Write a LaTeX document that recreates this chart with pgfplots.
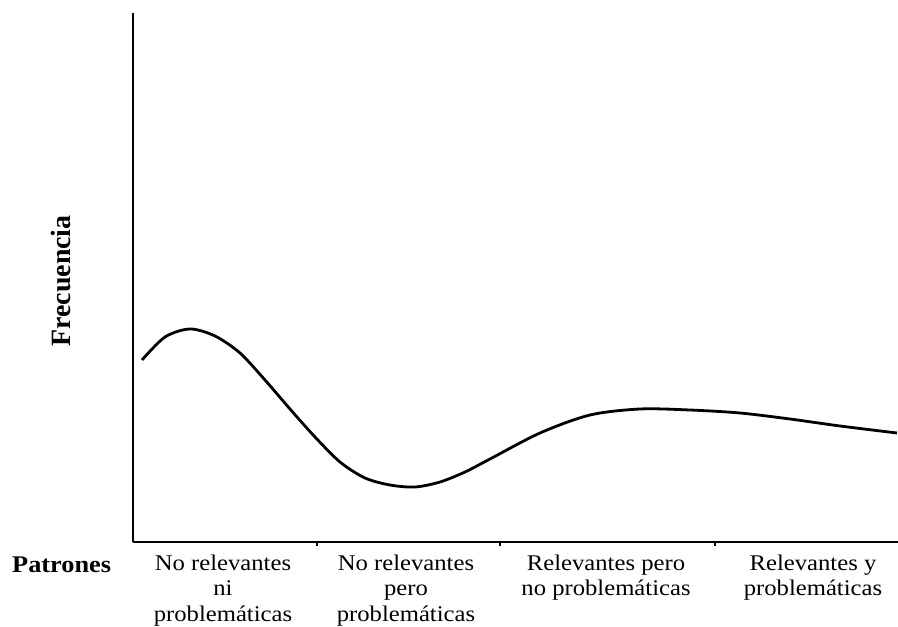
\documentclass[border=0pt]{standalone}
\usepackage{pgfplots}
\pgfplotsset{compat=1.18}
\usepackage{fontspec}
\setmainfont{Liberation Serif}
\newfontfamily\lblfont[FakeStretch=1.1]{Liberation Serif}
\begin{document}
\begin{tikzpicture}
\path[use as bounding box] (-133bp,-85bp) rectangle (765bp,542bp);
\begin{axis}[
    scale only axis,
    width=765bp, height=529bp,
    xmin=133, xmax=898,
    ymin=0, ymax=529,
    axis lines*=left,
    axis line style={-, line width=2.8bp},
    ytick=\empty,
    xtick={223,406,606,813},
    xticklabels={No relevantes\\ni\\problemáticas, No relevantes\\pero\\problemáticas, Relevantes pero\\no problemáticas, Relevantes y\\problemáticas},
    major tick length=0pt,
    x tick label style={align=center, font=\lblfont\fontsize{22.5}{26}\selectfont, yshift=-9bp},
    extra x ticks={317,500,715},
    extra x tick labels={},
    extra x tick style={major tick length=4bp, tick align=outside, tick style={line width=1.5bp, black}},
    clip=false,
]
% frecuencia (px desde el eje x)
\addplot[black, line width=2.8bp, smooth, tension=0.5] coordinates {
    (142,182) (165,205) (190,213) (215,206) (240,189) (265,162)
    (290,133) (315,105) (340,80) (365,64) (390,57) (415,55)
    (440,60) (465,70) (490,83) (540,109) (590,127) (640,133)
    (690,132) (740,129) (790,123) (840,116) (897,109)
};
\node[anchor=base west, inner sep=0pt, font=\lblfont\fontsize{24}{28}\selectfont\bfseries] at (axis cs:12,-30) {Patrones};
\node[rotate=90, inner sep=0pt, font=\fontsize{28}{32}\selectfont\bfseries] at (axis cs:61,261) {Frecuencia};
\end{axis}
\end{tikzpicture}
\end{document}
